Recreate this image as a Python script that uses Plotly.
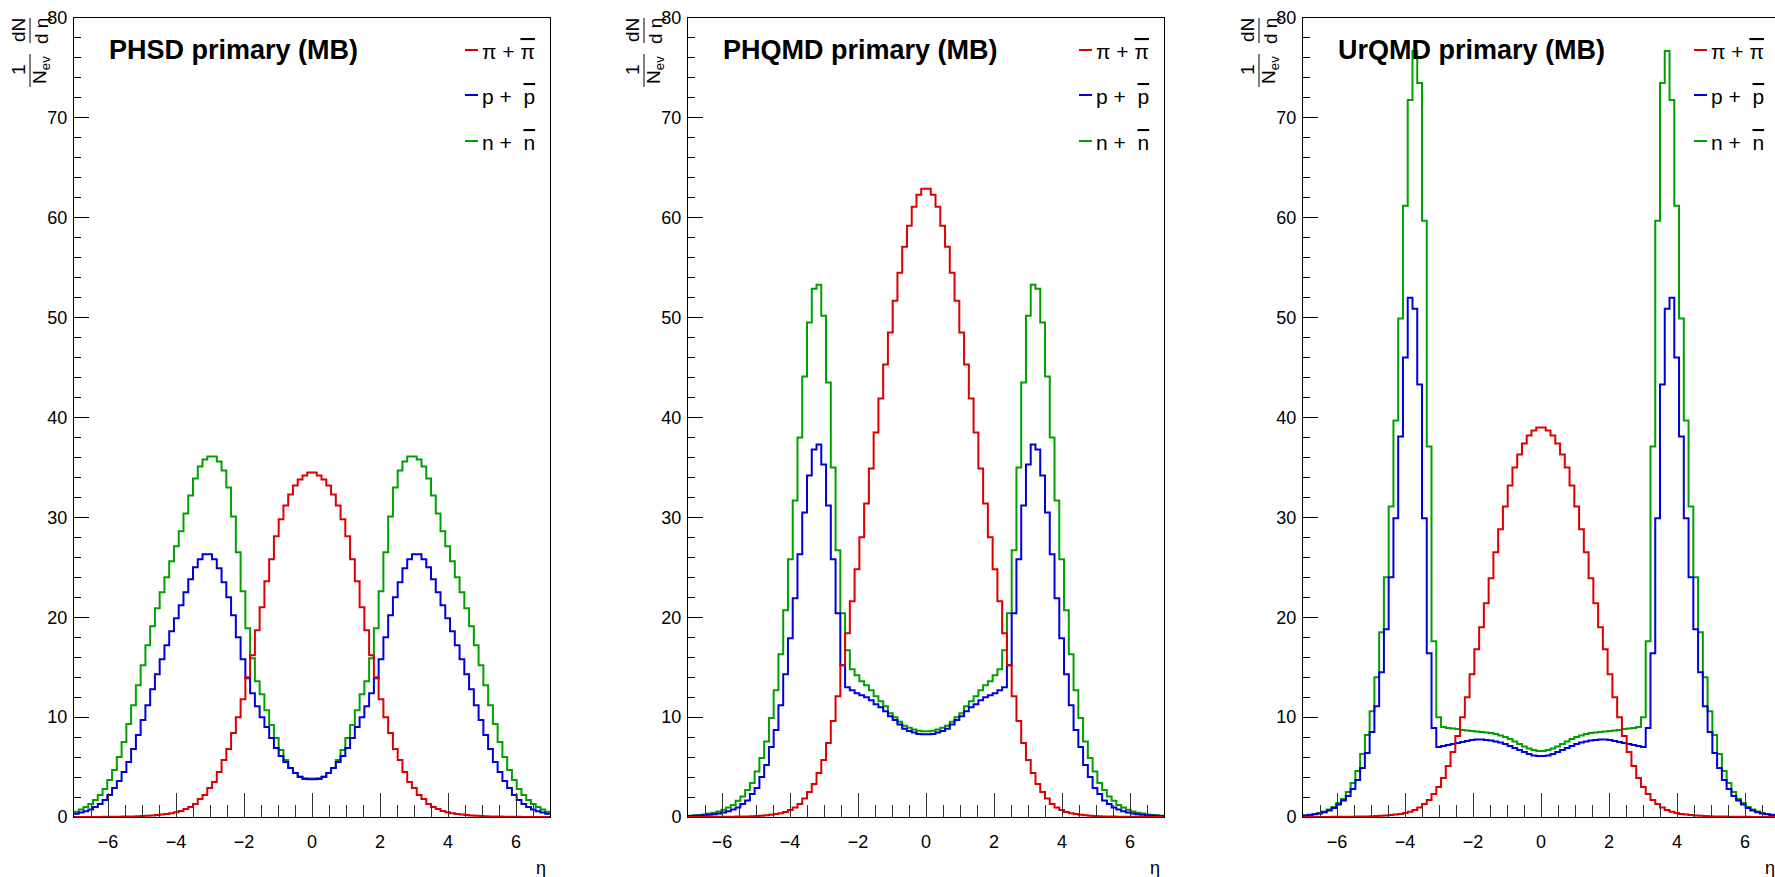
import numpy as np
import plotly.graph_objects as go

# ---------------- data ----------------
ETA_MIN, ETA_MAX, N_BINS = -7.0, 7.0, 100
MODEL_TITLES = ["PHSD primary (MB)", "PHQMD primary (MB)", "UrQMD primary (MB)"]
SPECIES_LABELS = ["π + <span style='text-decoration:overline'>π</span>",
                  "p +  <span style='text-decoration:overline'>p</span>",
                  "n +  <span style='text-decoration:overline'>n</span>"]
Y_TICKS = [0, 10, 20, 30, 40, 50, 60, 70, 80]
X_TICKS = [-6, -4, -2, 0, 2, 4, 6]

PHSD_PI = [0.01, 0.01, 0.01, 0.01, 0.01, 0.01, 0.02, 0.02, 0.03, 0.03,
           0.04, 0.05, 0.06, 0.08, 0.10, 0.13, 0.16, 0.20, 0.24, 0.30,
           0.37, 0.47, 0.60, 0.80, 1.0, 1.3, 1.8, 2.2, 2.9, 3.5,
           4.5, 5.7, 6.8, 8.4, 10.0, 11.8, 14.0, 16.2, 18.7, 21.0,
           23.6, 25.8, 28.1, 29.8, 31.2, 32.3, 33.2, 33.8, 34.2, 34.5,
           34.5, 34.2, 33.8, 33.2, 32.3, 31.2, 29.8, 28.1, 25.8, 23.6,
           21.0, 18.7, 16.2, 14.0, 11.8, 10.0, 8.4, 6.8, 5.7, 4.5,
           3.5, 2.9, 2.2, 1.8, 1.3, 1.0, 0.80, 0.60, 0.47, 0.37,
           0.30, 0.24, 0.20, 0.16, 0.13, 0.10, 0.08, 0.06, 0.05, 0.04,
           0.03, 0.03, 0.02, 0.02, 0.01, 0.01, 0.01, 0.01, 0.01, 0.01]
PHSD_P = [0.32, 0.44, 0.58, 0.75, 1.0, 1.3, 1.7, 2.2, 2.9, 3.6,
          4.5, 5.5, 6.8, 8.2, 9.7, 11.2, 12.8, 14.3, 15.8, 17.2,
          18.6, 19.9, 21.2, 22.5, 23.8, 25.0, 25.8, 26.3, 26.3, 25.8,
          24.9, 23.5, 22.0, 20.2, 18.0, 15.8, 13.9, 12.4, 11.1, 10.0,
          9.0, 7.9, 6.9, 6.1, 5.5, 4.9, 4.4, 4.0, 3.8, 3.77,
          3.77, 3.8, 4.0, 4.4, 4.9, 5.5, 6.1, 6.9, 7.9, 9.0,
          10.0, 11.1, 12.4, 13.9, 15.8, 18.0, 20.2, 22.0, 23.5, 24.9,
          25.8, 26.3, 26.3, 25.8, 25.0, 23.8, 22.5, 21.2, 19.9, 18.6,
          17.2, 15.8, 14.3, 12.8, 11.2, 9.7, 8.2, 6.8, 5.5, 4.5,
          3.6, 2.9, 2.2, 1.7, 1.3, 1.0, 0.75, 0.58, 0.44, 0.32]
PHSD_N = [0.53, 0.75, 1.0, 1.3, 1.7, 2.2, 2.8, 3.7, 4.7, 6.0,
          7.5, 9.3, 11.2, 13.2, 15.2, 17.2, 19.1, 20.9, 22.5, 24.0,
          25.6, 27.1, 28.6, 30.4, 32.2, 33.9, 35.1, 35.8, 36.1, 36.1,
          35.6, 34.7, 33.0, 30.1, 26.5, 22.6, 18.9, 15.9, 13.6, 12.3,
          10.7, 9.2, 7.9, 6.7, 5.7, 4.9, 4.4, 4.05, 3.87, 3.85,
          3.85, 3.87, 4.05, 4.4, 4.9, 5.7, 6.7, 7.9, 9.2, 10.7,
          12.3, 13.6, 15.9, 18.9, 22.6, 26.5, 30.1, 33.0, 34.7, 35.6,
          36.1, 36.1, 35.8, 35.1, 33.9, 32.2, 30.4, 28.6, 27.1, 25.6,
          24.0, 22.5, 20.9, 19.1, 17.2, 15.2, 13.2, 11.2, 9.3, 7.5,
          6.0, 4.7, 3.7, 2.8, 2.2, 1.7, 1.3, 1.0, 0.75, 0.53]

PHQMD_PI = [0.01, 0.01, 0.01, 0.01, 0.01, 0.02, 0.02, 0.02, 0.03, 0.03,
            0.04, 0.05, 0.06, 0.08, 0.10, 0.13, 0.17, 0.22, 0.29, 0.38,
            0.50, 0.70, 0.95, 1.3, 1.85, 2.5, 3.3, 4.4, 5.7, 7.4,
            9.6, 12.1, 15.2, 18.4, 21.6, 24.8, 28.0, 31.4, 34.9, 38.5,
            41.9, 45.3, 48.5, 51.7, 54.5, 57.1, 59.2, 61.1, 62.3, 62.9,
            62.9, 62.3, 61.1, 59.2, 57.1, 54.5, 51.7, 48.5, 45.3, 41.9,
            38.5, 34.9, 31.4, 28.0, 24.8, 21.6, 18.4, 15.2, 12.1, 9.6,
            7.4, 5.7, 4.4, 3.3, 2.5, 1.85, 1.3, 0.95, 0.70, 0.50,
            0.38, 0.29, 0.22, 0.17, 0.13, 0.10, 0.08, 0.06, 0.05, 0.04,
            0.03, 0.03, 0.02, 0.02, 0.02, 0.01, 0.01, 0.01, 0.01, 0.01]
PHQMD_P = [0.10, 0.12, 0.14, 0.18, 0.22, 0.28, 0.35, 0.44, 0.57, 0.75,
           0.95, 1.3, 1.65, 2.3, 2.9, 4.0, 5.2, 7.0, 8.7, 11.2,
           14.3, 17.9, 21.9, 26.3, 30.5, 34.2, 36.8, 37.3, 35.3, 31.2,
           25.8, 20.4, 15.2, 13.0, 12.7, 12.4, 12.2, 12.0, 11.7, 11.3,
           11.0, 10.6, 10.1, 9.7, 9.27, 8.84, 8.6, 8.45, 8.32, 8.28,
           8.28, 8.32, 8.45, 8.6, 8.84, 9.27, 9.7, 10.1, 10.6, 11.0,
           11.3, 11.7, 12.0, 12.2, 12.4, 12.7, 13.0, 15.2, 20.4, 25.8,
           31.2, 35.3, 37.3, 36.8, 34.2, 30.5, 26.3, 21.9, 17.9, 14.3,
           11.2, 8.7, 7.0, 5.2, 4.0, 2.9, 2.3, 1.65, 1.3, 0.95,
           0.75, 0.57, 0.44, 0.35, 0.28, 0.22, 0.18, 0.14, 0.12, 0.10]
PHQMD_N = [0.12, 0.17, 0.21, 0.26, 0.34, 0.43, 0.56, 0.73, 0.94, 1.2,
           1.63, 2.06, 2.7, 3.4, 4.55, 5.9, 7.55, 9.9, 12.7, 16.3,
           20.7, 25.8, 31.7, 38.0, 44.1, 49.5, 52.9, 53.3, 50.2, 43.5,
           35.0, 26.7, 20.4, 16.7, 14.8, 14.2, 13.6, 13.2, 12.7, 12.1,
           11.6, 11.1, 10.4, 10.0, 9.53, 9.14, 8.93, 8.76, 8.63, 8.58,
           8.58, 8.63, 8.76, 8.93, 9.14, 9.53, 10.0, 10.4, 11.1, 11.6,
           12.1, 12.7, 13.2, 13.6, 14.2, 14.8, 16.7, 20.4, 26.7, 35.0,
           43.5, 50.2, 53.3, 52.9, 49.5, 44.1, 38.0, 31.7, 25.8, 20.7,
           16.3, 12.7, 9.9, 7.55, 5.9, 4.55, 3.4, 2.7, 2.06, 1.63,
           1.2, 0.94, 0.73, 0.56, 0.43, 0.34, 0.26, 0.21, 0.17, 0.12]

URQMD_PI = [0.01, 0.01, 0.01, 0.01, 0.01, 0.01, 0.02, 0.02, 0.02, 0.03,
            0.03, 0.04, 0.05, 0.06, 0.08, 0.10, 0.12, 0.15, 0.19, 0.24,
            0.30, 0.40, 0.52, 0.70, 0.95, 1.3, 1.7, 2.3, 3.0, 3.9,
            5.1, 6.5, 8.1, 10.0, 12.0, 14.3, 16.8, 19.0, 21.4, 23.9,
            26.5, 28.8, 31.1, 33.2, 35.0, 36.3, 37.4, 38.2, 38.7, 39.0,
            39.0, 38.7, 38.2, 37.4, 36.3, 35.0, 33.2, 31.1, 28.8, 26.5,
            23.9, 21.4, 19.0, 16.8, 14.3, 12.0, 10.0, 8.1, 6.5, 5.1,
            3.9, 3.0, 2.3, 1.7, 1.3, 0.95, 0.70, 0.52, 0.40, 0.30,
            0.24, 0.19, 0.15, 0.12, 0.10, 0.08, 0.06, 0.05, 0.04, 0.03,
            0.03, 0.02, 0.02, 0.02, 0.01, 0.01, 0.01, 0.01, 0.01, 0.01]
URQMD_P = [0.15, 0.20, 0.27, 0.36, 0.48, 0.65, 0.90, 1.25, 1.65, 2.1,
           2.8, 3.7, 4.9, 6.4, 8.5, 11.1, 14.5, 18.8, 24.0, 29.9,
           38.1, 46.0, 52.0, 50.9, 43.3, 29.9, 16.4, 8.9, 7.0, 7.1,
           7.2, 7.3, 7.4, 7.5, 7.6, 7.7, 7.75, 7.75, 7.7, 7.65,
           7.55, 7.45, 7.3, 7.1, 6.9, 6.7, 6.5, 6.3, 6.15, 6.1,
           6.1, 6.15, 6.3, 6.5, 6.7, 6.9, 7.1, 7.3, 7.45, 7.55,
           7.65, 7.7, 7.75, 7.75, 7.7, 7.6, 7.5, 7.4, 7.3, 7.2,
           7.1, 7.0, 8.9, 16.4, 29.9, 43.3, 50.9, 52.0, 46.0, 38.1,
           29.9, 24.0, 18.8, 14.5, 11.1, 8.5, 6.4, 4.9, 3.7, 2.8,
           2.1, 1.65, 1.25, 0.90, 0.65, 0.48, 0.36, 0.27, 0.20, 0.15]
URQMD_N = [0.16, 0.22, 0.30, 0.40, 0.55, 0.75, 1.0, 1.4, 1.8, 2.5,
           3.4, 4.6, 6.3, 8.2, 10.6, 14.0, 18.5, 24.0, 31.1, 39.7,
           49.9, 61.2, 71.8, 76.7, 73.5, 59.7, 37.1, 17.6, 10.0, 9.0,
           8.9, 8.85, 8.8, 8.7, 8.65, 8.6, 8.55, 8.5, 8.45, 8.4,
           8.3, 8.15, 8.0, 7.8, 7.55, 7.3, 7.05, 6.85, 6.7, 6.6,
           6.6, 6.7, 6.85, 7.05, 7.3, 7.55, 7.8, 8.0, 8.15, 8.3,
           8.4, 8.45, 8.5, 8.55, 8.6, 8.65, 8.7, 8.8, 8.85, 8.9,
           9.0, 10.0, 17.6, 37.1, 59.7, 73.5, 76.7, 71.8, 61.2, 49.9,
           39.7, 31.1, 24.0, 18.5, 14.0, 10.6, 8.2, 6.3, 4.6, 3.4,
           2.5, 1.8, 1.4, 1.0, 0.75, 0.55, 0.40, 0.30, 0.22, 0.16]

PANELS = [
    {"pi": PHSD_PI, "p": PHSD_P, "n": PHSD_N},
    {"pi": PHQMD_PI, "p": PHQMD_P, "n": PHQMD_N},
    {"pi": URQMD_PI, "p": URQMD_P, "n": URQMD_N},
]

# ---------------- style / layout ----------------
W, H = 1775, 877
FONT = "Liberation Sans, Arial, Helvetica, sans-serif"
COLORS = {"pi": "#dd0000", "p": "#0000dd", "n": "#00a000"}
SPECIES_ORDER = ["pi", "p", "n"]
DRAW_ORDER = ["n", "p", "pi"]

PANEL_LEFT = [74, 688, 1303]
PANEL_W = 476
PX_PER_UNIT = PANEL_W / (ETA_MAX - ETA_MIN)
FRAME_TOP, FRAME_BOTTOM = 18, 817
LEGEND_Y = [50, 95, 141]


def px(xp):
    return xp / W


def py(yp):
    return 1 - yp / H


edges = np.linspace(ETA_MIN, ETA_MAX, N_BINS + 1)

fig = go.Figure()
annotations = []
shapes = []

for i, panel in enumerate(PANELS):
    ax = "" if i == 0 else str(i + 1)
    left = PANEL_LEFT[i]
    right = min(left + PANEL_W, W)
    xmax = ETA_MIN + (right - left) / PX_PER_UNIT

    for sp in DRAW_ORDER:
        vals = panel[sp]
        fig.add_trace(go.Scatter(
            x=list(edges),
            y=list(vals) + [vals[-1]],
            mode="lines",
            line=dict(color=COLORS[sp], width=2, shape="hv"),
            xaxis="x" + ax, yaxis="y" + ax,
            showlegend=False, hoverinfo="skip",
        ))

    fig.layout["xaxis" + ax] = dict(
        domain=[px(left), px(right)], anchor="y" + ax, automargin=False,
        range=[ETA_MIN, xmax], showgrid=False, zeroline=False,
        showline=True, linecolor="black", linewidth=1, mirror=True,
        ticks="inside", ticklen=24, tickwidth=1, tickcolor="#333",
        tickmode="array", tickvals=X_TICKS,
        minor=dict(ticks="inside", ticklen=12, tickwidth=1, tickcolor="#333",
                   dtick=0.5, tick0=0, showgrid=False),
        tickfont=dict(family=FONT, size=18, color="black"),
        ticklabelstandoff=8,
    )
    fig.layout["yaxis" + ax] = dict(
        domain=[py(FRAME_BOTTOM), py(FRAME_TOP)], anchor="x" + ax,
        automargin=False,
        range=[0, 80], showgrid=False, zeroline=False,
        showline=True, linecolor="black", linewidth=1,
        mirror=(i < 2),
        ticks="inside", ticklen=15, tickwidth=1, tickcolor="black",
        tickmode="array", tickvals=Y_TICKS,
        minor=dict(ticks="inside", ticklen=7, tickwidth=1, tickcolor="black",
                   dtick=2, tick0=0, showgrid=False),
        tickfont=dict(family=FONT, size=18, color="black"),
        ticklabelstandoff=2,
    )

    # panel title
    annotations.append(dict(
        text="<b>" + MODEL_TITLES[i] + "</b>", xref="paper", yref="paper",
        x=px(left + 33), y=py(50), xanchor="left", yanchor="middle",
        showarrow=False, font=dict(family=FONT, size=27, color="black")))

    # legend
    for j, sp in enumerate(SPECIES_ORDER):
        shapes.append(dict(type="line", xref="paper", yref="paper",
                           x0=px(left + 391), x1=px(left + 404),
                           y0=py(LEGEND_Y[j]), y1=py(LEGEND_Y[j]),
                           line=dict(color=COLORS[sp], width=2)))
        annotations.append(dict(
            text=SPECIES_LABELS[j], xref="paper", yref="paper",
            x=px(left + 406), y=py(LEGEND_Y[j] + 1), xanchor="left",
            yanchor="middle", showarrow=False,
            font=dict(family=FONT, size=21, color="black")))

    # x-axis title
    annotations.append(dict(
        text="η", xref="paper", yref="paper",
        x=px(left + PANEL_W - 2), y=py(868), xanchor="right",
        yanchor="middle", showarrow=False,
        font=dict(family=FONT, size=18, color="black")))

    # y-axis title : 1/N_ev dN/d eta (rotated fraction)
    for txt, dx, yc in [("1", -55, 70), ("N<sub>ev</sub>", -33, 70),
                        ("dN", -55, 30), ("d η", -33, 31)]:
        annotations.append(dict(
            text=txt, xref="paper", yref="paper", x=px(left + dx), y=py(yc),
            xanchor="center", yanchor="middle", textangle=-90, showarrow=False,
            font=dict(family=FONT, size=19, color="black")))
    for y0, y1 in [(54, 87), (18, 43)]:
        shapes.append(dict(type="line", xref="paper", yref="paper",
                           x0=px(left - 44), x1=px(left - 44),
                           y0=py(y0), y1=py(y1),
                           line=dict(color="black", width=1)))

fig.update_layout(
    width=W, height=H, autosize=False,
    margin=dict(l=0, r=0, t=0, b=0, pad=0, autoexpand=False),
    paper_bgcolor="white", plot_bgcolor="white",
    annotations=annotations, shapes=shapes,
    font=dict(family=FONT, color="black"),
    showlegend=False,
)

fig.write_html("out.html")
